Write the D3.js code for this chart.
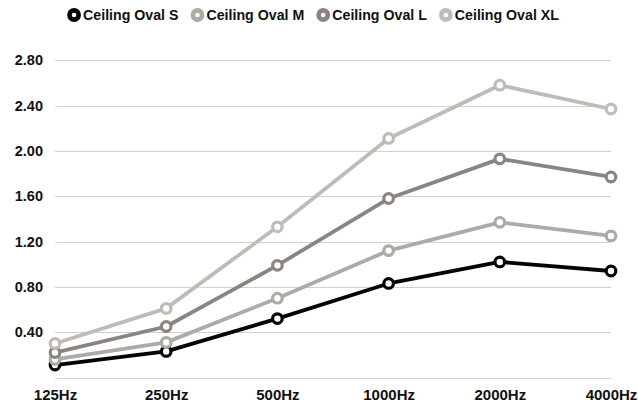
<!DOCTYPE html>
<html>
<head>
<meta charset="utf-8">
<script src="https://cdn.jsdelivr.net/npm/d3@7"></script>
<style>
  html, body { margin: 0; padding: 0; background: #fff; }
  svg { display: block; }
  text { font-family: "Liberation Sans", Arial, sans-serif; font-weight: bold; fill: #111; }
</style>
</head>
<body>
<svg id="chart" width="638" height="408"></svg>
<script>
const categories = ["125Hz", "250Hz", "500Hz", "1000Hz", "2000Hz", "4000Hz"];
const seriesNames = ["Ceiling Oval S", "Ceiling Oval M", "Ceiling Oval L", "Ceiling Oval XL"];
const valuesS  = [0.11, 0.23, 0.52, 0.83, 1.02, 0.94];
const valuesM  = [0.16, 0.31, 0.70, 1.12, 1.37, 1.25];
const valuesL  = [0.22, 0.45, 0.99, 1.58, 1.93, 1.77];
const valuesXL = [0.30, 0.61, 1.33, 2.11, 2.58, 2.37];
const yTicks = [0, 0.4, 0.8, 1.2, 1.6, 2.0, 2.4, 2.8];
const colors = ["#050505", "#aeaba6", "#8b8480", "#bfbcb7"];

const series = [valuesS, valuesM, valuesL, valuesXL].map((v, i) => ({
  name: seriesNames[i], values: v, color: colors[i]
}));

const svg = d3.select("#chart");
const x = d3.scalePoint().domain(categories).range([55, 611]).padding(0);
const y = d3.scaleLinear().domain([0, 2.8]).range([377.5, 60.3]);

// gridlines
svg.append("g").selectAll("line").data(yTicks).join("line")
  .attr("x1", 55).attr("x2", 611)
  .attr("y1", d => Math.round(y(d)) + 0.5).attr("y2", d => Math.round(y(d)) + 0.5)
  .attr("stroke", "#d6d0c8").attr("stroke-width", 1);

// y axis labels
const yAxis = d3.axisLeft(y).tickValues(yTicks.filter(d => d > 0))
  .tickFormat(d3.format(".2f")).tickSize(0).tickPadding(0);
const gy = svg.append("g").attr("transform", "translate(43,0)").call(yAxis);
gy.select(".domain").remove();
gy.selectAll("text").attr("font-size", 14.5).attr("font-family", "Liberation Sans, Arial, sans-serif")
  .attr("font-weight", "bold").attr("fill", "#111");

// x axis labels
const xAxis = d3.axisBottom(x).tickSize(0).tickPadding(0);
const gx = svg.append("g").attr("transform", "translate(0,389)").call(xAxis);
gx.select(".domain").remove();
gx.selectAll("text").attr("font-size", 15).attr("font-family", "Liberation Sans, Arial, sans-serif")
  .attr("font-weight", "bold").attr("fill", "#111");

// lines & markers
const line = d3.line().x((d, i) => x(categories[i])).y(d => y(d));
series.forEach(s => {
  const g = svg.append("g");
  g.append("path").attr("d", line(s.values)).attr("fill", "none")
    .attr("stroke", s.color).attr("stroke-width", 3.8).attr("stroke-linejoin", "round");
  g.selectAll("circle").data(s.values).join("circle")
    .attr("cx", (d, i) => x(categories[i])).attr("cy", d => y(d))
    .attr("r", 4.8).attr("fill", "#fff").attr("stroke", s.color).attr("stroke-width", 3.2);
});

// legend
const legend = svg.append("g");
const items = legend.selectAll("g").data(series).join("g");
items.append("circle").attr("cx", 7).attr("cy", 15).attr("r", 4.6)
  .attr("fill", "#fff").attr("stroke", d => d.color).attr("stroke-width", 4.6);
items.append("text").attr("x", 16).attr("y", 20.3).attr("font-size", 14.2).text(d => d.name);
const widths = [];
items.each(function() {
  const w = 16 + d3.select(this).select("text").node().getComputedTextLength();
  widths.push(w);
});
const gap = 12;
const total = d3.sum(widths) + gap * (widths.length - 1);
let start = 313 - total / 2;
items.attr("transform", (d, i) => {
  const t = `translate(${start},0)`;
  start += widths[i] + gap;
  return t;
});
</script>
</body>
</html>
